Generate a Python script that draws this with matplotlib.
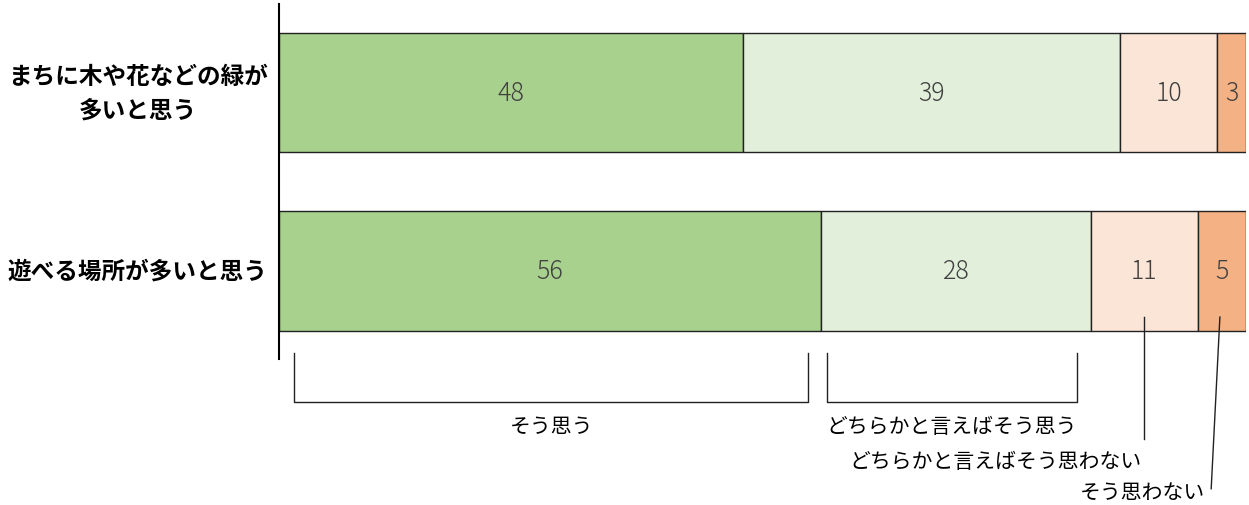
import numpy as np
import matplotlib.pyplot as plt

plt.rcParams['font.family'] = ['Noto Sans CJK JP', 'DejaVu Sans']

categories = ["まちに木や花などの緑が\n多いと思う", "遊べる場所が多いと思う"]
answers = ["そう思う", "どちらかと言えばそう思う", "どちらかと言えばそう思わない", "そう思わない"]
values = np.array([[48, 39, 10, 3],
                   [56, 28, 11, 5]])
colors = ["#A9D18E", "#E2EFDA", "#FBE5D6", "#F4B183"]

fig = plt.figure(figsize=(12.49, 5.06), dpi=100)
ax = fig.add_axes([279 / 1249, 1 - 360 / 506, 967 / 1249, 355 / 506])

y = np.arange(len(categories))
left = np.zeros(len(categories))
for j in range(values.shape[1]):
    ax.barh(y, values[:, j], left=left, height=0.667, color=colors[j],
            edgecolor="#222222", linewidth=1)
    for i in range(len(categories)):
        ax.text(left[i] + values[i, j] / 2, y[i], str(values[i, j]),
                ha="center", va="center", fontsize=18, color="#404040",
                fontweight="light")
    left = left + values[:, j]

ax.set_xlim(0, 100)
ax.set_ylim(1.493, -0.496)
ax.set_xticks([])
ax.set_yticks([])
for s in ["top", "right", "bottom"]:
    ax.spines[s].set_visible(False)
ax.spines["left"].set_linewidth(1.5)

for i, c in enumerate(categories):
    ax.text(-14.6, y[i], c, ha="center", va="center", fontsize=17,
            fontweight="bold", linespacing=1.5,
            transform=ax.transData, clip_on=False)

# brackets under the lower bar
cum = np.concatenate([[0], np.cumsum(values[1])])
insets = [(1.6, 1.3), (0.7, 1.5)]
for k in range(2):
    x0 = cum[k] + insets[k][0]
    x1 = cum[k + 1] - insets[k][1]
    ax.plot([x0, x0, x1, x1], [1.459, 1.734, 1.734, 1.459], color="#222222",
            lw=1, clip_on=False)
    ax.text((x0 + x1) / 2, 1.868, answers[k], ha="center",
            va="center", fontsize=15, clip_on=False)

# leader lines
m2 = (cum[2] + cum[3]) / 2
ax.plot([m2, m2], [1.258, 1.941], color="#222222", lw=1, clip_on=False)
ax.text(m2 - 15.4, 2.064, answers[2], ha="center", va="center", fontsize=15,
        clip_on=False)
m3 = (cum[3] + cum[4]) / 2
ax.plot([m3 - 0.2, m3 - 1.1], [1.258, 2.22], color="#222222", lw=1, clip_on=False)
ax.text(m3 - 8.2, 2.238, answers[3], ha="center", va="center", fontsize=15,
        clip_on=False)

fig.savefig("out.png", dpi=100)
